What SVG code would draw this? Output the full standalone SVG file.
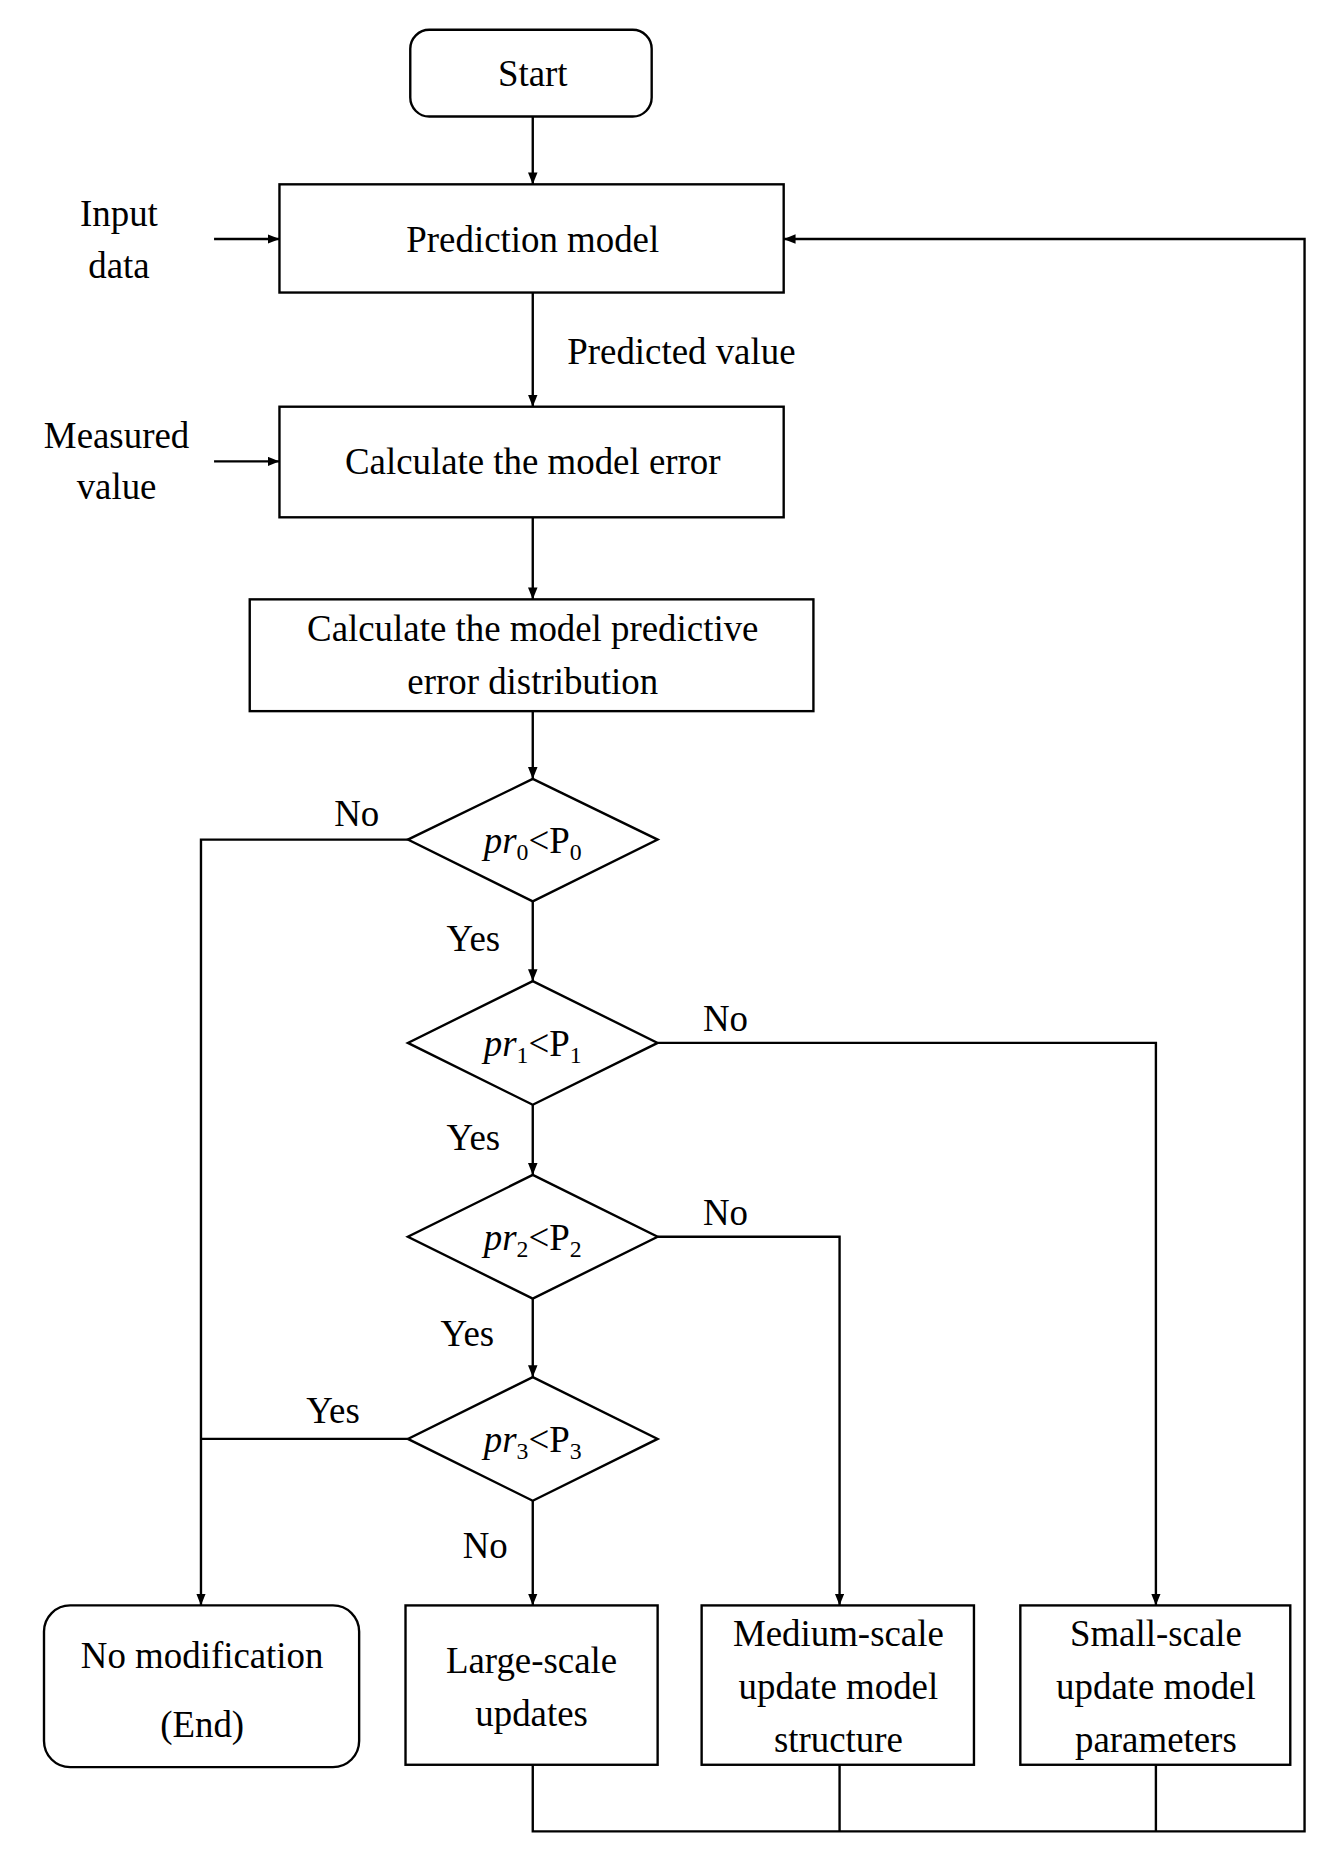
<svg xmlns="http://www.w3.org/2000/svg" width="1320" height="1850" viewBox="0 0 1320 1850">
<defs>
<marker id="ah" markerWidth="10" markerHeight="8" refX="10" refY="4" orient="auto" markerUnits="userSpaceOnUse"><path d="M0,0 L10,4 L0,8 z" fill="#000"/></marker>
<style>
.b{fill:#fff;stroke:#000;stroke-width:2}
.l{fill:none;stroke:#000;stroke-width:2}
.a{fill:none;stroke:#000;stroke-width:2;marker-end:url(#ah)}
text{font-family:"Liberation Serif","Times New Roman",serif;font-size:31px;fill:#000;text-anchor:middle}
.s{font-size:20px}
</style>
</defs>
<rect width="1320" height="1850" fill="#fff"/>
<g transform="scale(1.1892)">
<g id="connectors">
<path class="a" d="M448,98 V155"/>
<path class="a" d="M180,201 H235"/>
<path class="a" d="M448,246 V342"/>
<path class="a" d="M180,388 H235"/>
<path class="a" d="M448,435 V504"/>
<path class="a" d="M448,598 V655"/>
<path class="a" d="M343,706 H169 V1350"/>
<path class="a" d="M448,758 V825"/>
<path class="a" d="M553,877 H972 V1350"/>
<path class="a" d="M448,929 V988"/>
<path class="a" d="M553,1040 H706 V1350"/>
<path class="a" d="M448,1092 V1158"/>
<path class="l" d="M343,1210 H169"/>
<path class="a" d="M448,1262 V1350"/>
<path class="a" d="M448,1484 V1540 H1097 V201 H659"/>
<path class="l" d="M706,1484 V1540 M972,1484 V1540"/>
<text x="573" y="306">Predicted value</text>
<text x="300" y="695">No</text>
<text x="398" y="800">Yes</text>
<text x="610" y="867">No</text>
<text x="398" y="967">Yes</text>
<text x="610" y="1030">No</text>
<text x="393" y="1132">Yes</text>
<text x="280" y="1197">Yes</text>
<text x="408" y="1310">No</text>
</g>
<g id="start"><rect class="b" x="345" y="25" width="203" height="73" rx="16"/><text x="448" y="72">Start</text></g>
<g id="input"><text x="100" y="190">Input</text><text x="100" y="234">data</text></g>
<g id="pred"><rect class="b" x="235" y="155" width="424" height="91"/><text x="448" y="212">Prediction model</text></g>
<g id="meas"><text x="98" y="377">Measured</text><text x="98" y="420">value</text></g>
<g id="err"><rect class="b" x="235" y="342" width="424" height="93"/><text x="448" y="399">Calculate the model error</text></g>
<g id="dist"><rect class="b" x="210" y="504" width="474" height="94"/><text x="448" y="539">Calculate the model predictive</text><text x="448" y="584">error distribution</text></g>
<g id="d0"><path class="b" d="M448,655 L553,706 L448,758 L343,706 Z"/><text x="448" y="717"><tspan font-style="italic">pr</tspan><tspan class="s" dy="6">0</tspan><tspan dy="-6">&lt;P</tspan><tspan class="s" dy="6">0</tspan></text></g>
<g id="d1"><path class="b" d="M448,825 L553,877 L448,929 L343,877 Z"/><text x="448" y="888"><tspan font-style="italic">pr</tspan><tspan class="s" dy="6">1</tspan><tspan dy="-6">&lt;P</tspan><tspan class="s" dy="6">1</tspan></text></g>
<g id="d2"><path class="b" d="M448,988 L553,1040 L448,1092 L343,1040 Z"/><text x="448" y="1051"><tspan font-style="italic">pr</tspan><tspan class="s" dy="6">2</tspan><tspan dy="-6">&lt;P</tspan><tspan class="s" dy="6">2</tspan></text></g>
<g id="d3"><path class="b" d="M448,1158 L553,1210 L448,1262 L343,1210 Z"/><text x="448" y="1221"><tspan font-style="italic">pr</tspan><tspan class="s" dy="6">3</tspan><tspan dy="-6">&lt;P</tspan><tspan class="s" dy="6">3</tspan></text></g>
<g id="nomod"><rect class="b" x="37" y="1350" width="265" height="136" rx="22" stroke="#888"/><text x="170" y="1403">No modification</text><text x="170" y="1461">(End)</text></g>
<g id="large"><rect class="b" x="341" y="1350" width="212" height="134"/><text x="447" y="1407">Large-scale</text><text x="447" y="1451">updates</text></g>
<g id="medium"><rect class="b" x="590" y="1350" width="229" height="134"/><text x="705" y="1384">Medium-scale</text><text x="705" y="1429">update model</text><text x="705" y="1473">structure</text></g>
<g id="small"><rect class="b" x="858" y="1350" width="227" height="134"/><text x="972" y="1384">Small-scale</text><text x="972" y="1429">update model</text><text x="972" y="1473">parameters</text></g>
</g>
</svg>
